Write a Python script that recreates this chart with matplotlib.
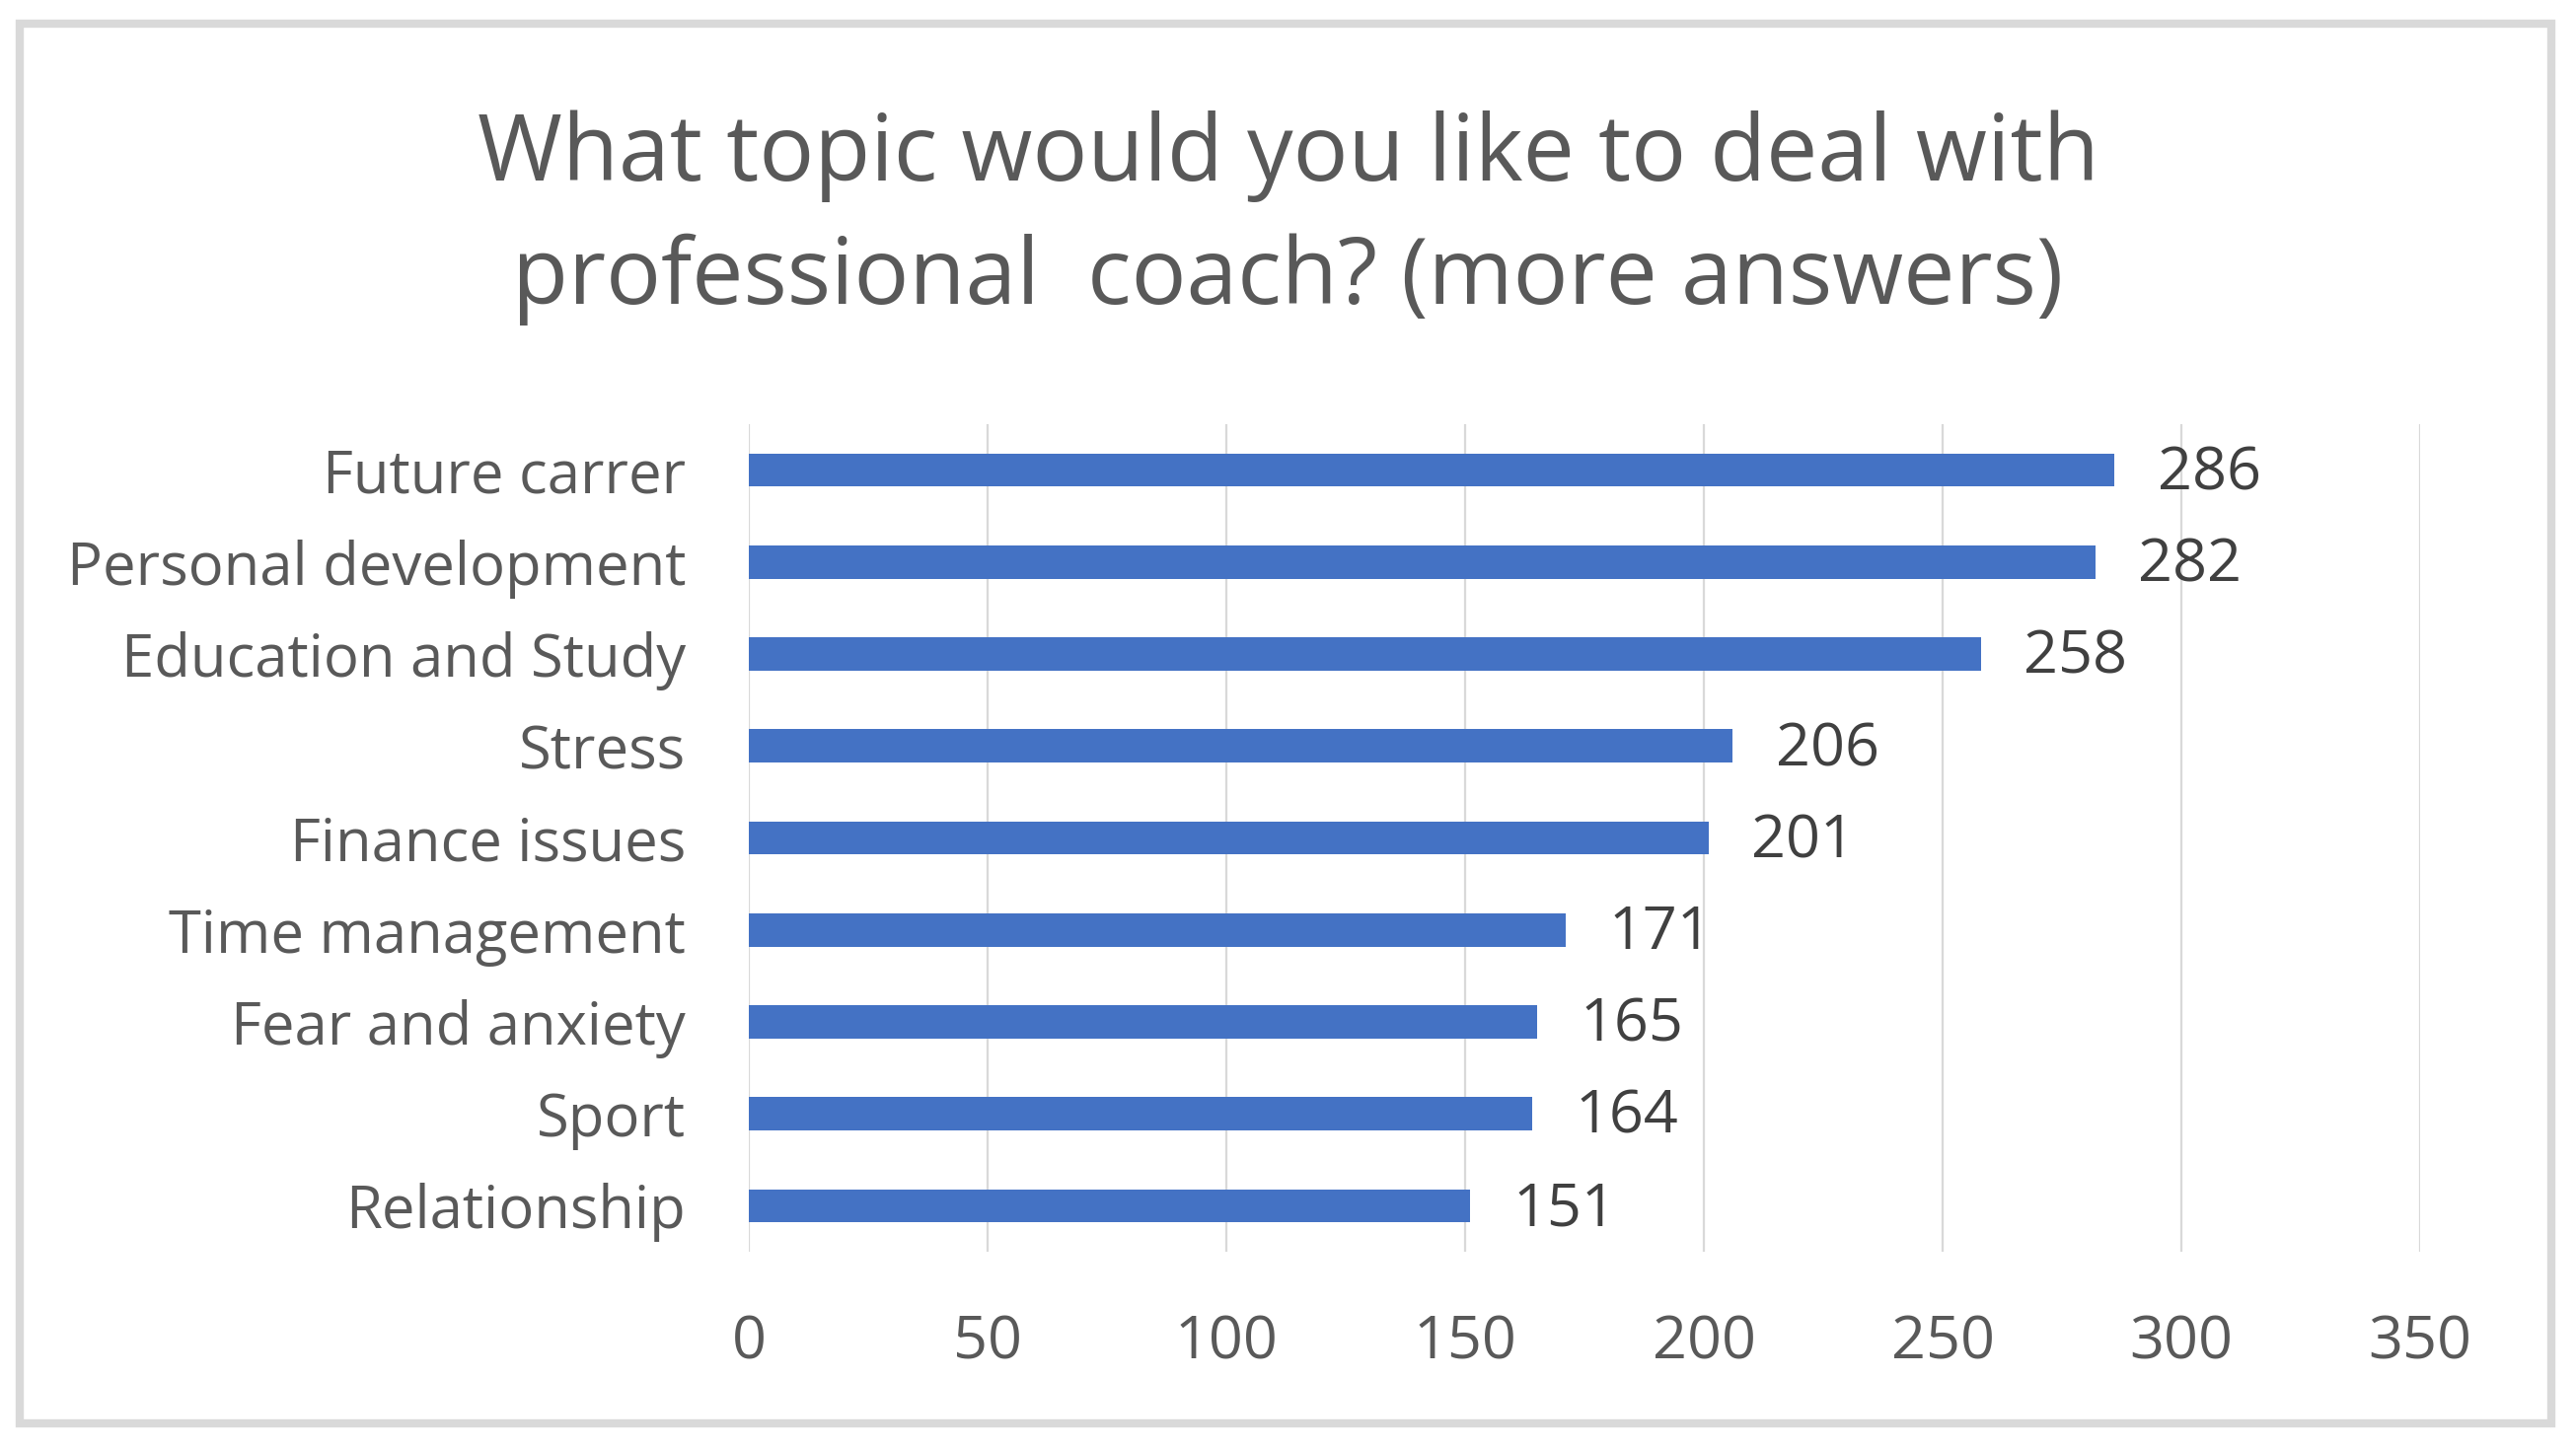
import matplotlib.pyplot as plt
from matplotlib.patches import Rectangle

topics = ["Future carrer", "Personal development", "Education and Study", "Stress",
          "Finance issues", "Time management", "Fear and anxiety", "Sport", "Relationship"]
counts = [286, 282, 258, 206, 201, 171, 165, 164, 151]
xticks = [0, 50, 100, 150, 200, 250, 300, 350]

W, H = 2611, 1470
plt.rcParams['font.family'] = ['Open Sans', 'DejaVu Sans']
txt = "#595959"

fig = plt.figure(figsize=(W / 100, H / 100), dpi=100)
# axes placed in pixel terms
x0, x1 = 759, 2453
y_top, y_bot = 430, 1269
ax = fig.add_axes([x0 / W, 1 - y_bot / H, (x1 - x0) / W, (y_bot - y_top) / H])

y = list(range(len(topics)))
ax.barh(y, counts, height=0.36, color="#4472c4", zorder=3)
for yi, v in zip(y, counts):
    ax.text(v + 9, yi + 0.04, str(v), va="center", ha="left", fontsize=44, color="#404040")

ax.set_xlim(0, 350)
ax.set_ylim(len(topics) - 0.5, -0.5)
ax.set_xticks(xticks)
ax.set_yticks(y)
ax.set_yticklabels(topics)
ax.tick_params(axis="y", length=0, labelsize=43, labelcolor=txt, pad=46)
ax.tick_params(axis="x", length=0, labelsize=44, labelcolor=txt, pad=45)
ax.xaxis.grid(True, color="#d9d9d9", linewidth=1.6, zorder=0)
for s in ax.spines.values():
    s.set_visible(False)

fig.text(0.5, 1 - 158 / H, "What topic would you like to deal with",
         ha="center", va="center", fontsize=67, color=txt)
fig.text(0.5, 1 - 283 / H, "professional  coach? (more answers)",
         ha="center", va="center", fontsize=67, color=txt)

fig.patches.append(Rectangle((20 / W, 1 - 1443 / H), (2586 - 20) / W, (1443 - 24) / H,
                             transform=fig.transFigure, fill=False,
                             edgecolor="#d9d9d9", linewidth=6))

fig.savefig("out.png", dpi=100)
